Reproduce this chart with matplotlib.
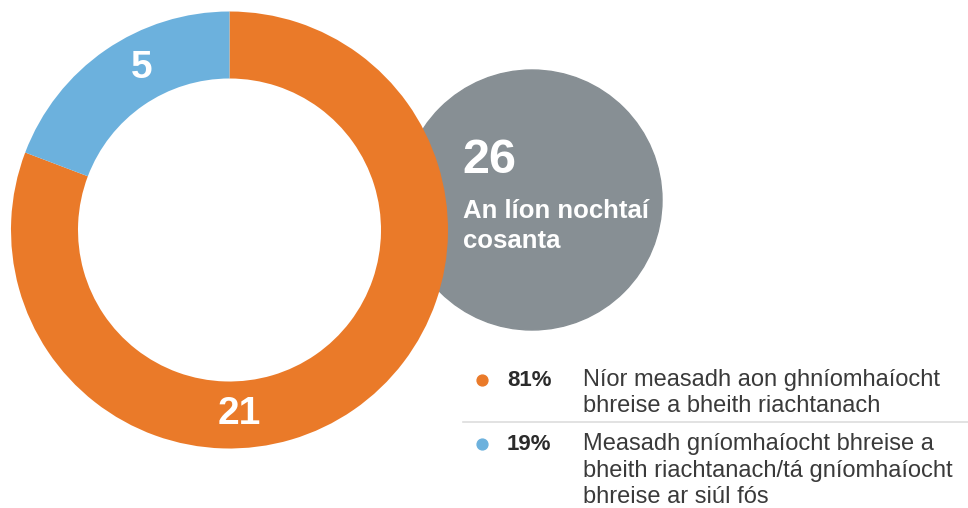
import matplotlib
matplotlib.use("Agg")
import matplotlib.pyplot as plt
from matplotlib.patches import Circle
import numpy as np

# data
counts = [21, 5]
colors = ["#EA7A29", "#6CB1DD"]
total = 26
total_label = ["An líon nochtaí", "cosanta"]
pcts = ["81%", "19%"]
legend_texts = [
    ["Níor measadh aon ghníomhaíocht", "bhreise a bheith riachtanach"],
    ["Measadh gníomhaíocht bhreise a", "bheith riachtanach/tá gníomhaíocht",
     "bhreise ar siúl fós"],
]

plt.rcParams["font.family"] = ["Liberation Sans", "DejaVu Sans"]

W, H = 968, 508
fig = plt.figure(figsize=(W / 100, H / 100), dpi=100)
ax = fig.add_axes([0, 0, 1, 1])

# grey summary circle sits behind the donut
ax.add_patch(Circle((532, H - 200), 130, color="#878F94", zorder=1))
ax.text(462, H - 173, str(total), color="white", fontsize=35, fontweight="bold",
        ha="left", va="baseline", zorder=3)
for i, line in enumerate(total_label):
    ax.text(463, H - 218 - 30 * i, line, color="white", fontsize=18.5,
            fontweight="bold", ha="left", va="baseline", zorder=3)

# donut
cx, cy, R = 229.5, H - 230, 218.5
wedges, _ = ax.pie(counts, colors=colors, startangle=90, counterclock=False,
                   center=(cx, cy), radius=R,
                   wedgeprops=dict(width=67, linewidth=0))
for w in wedges:
    w.set_zorder(2)

label_angles = [-87, 118.5]
for n, ang in zip(counts, label_angles):
    a = np.deg2rad(ang)
    ax.text(cx + 184 * np.cos(a), cy + 184 * np.sin(a), str(n), color="white",
            fontsize=28, fontweight="bold", ha="center", va="center", zorder=3)

# legend
rows_y = [386, 450]
for pct, lines, col, y in zip(pcts, legend_texts, colors, rows_y):
    ax.plot(481.5, H - y + 6, "o", color=col, markersize=7.8, zorder=3)
    ax.text(507, H - y, pct, color="#2B2B2B", fontsize=16, fontweight="bold",
            ha="left", va="baseline")
    for i, line in enumerate(lines):
        ax.text(583, H - y - 26.5 * i, line, color="#3A3A3A", fontsize=17,
                ha="left", va="baseline")
ax.plot([463, 968], [H - 422, H - 422], color="#DDDDDD", linewidth=1.2)

ax.set_xlim(0, W)
ax.set_ylim(0, H)
ax.set_aspect("equal")
ax.axis("off")

fig.savefig("out.png", dpi=100)
